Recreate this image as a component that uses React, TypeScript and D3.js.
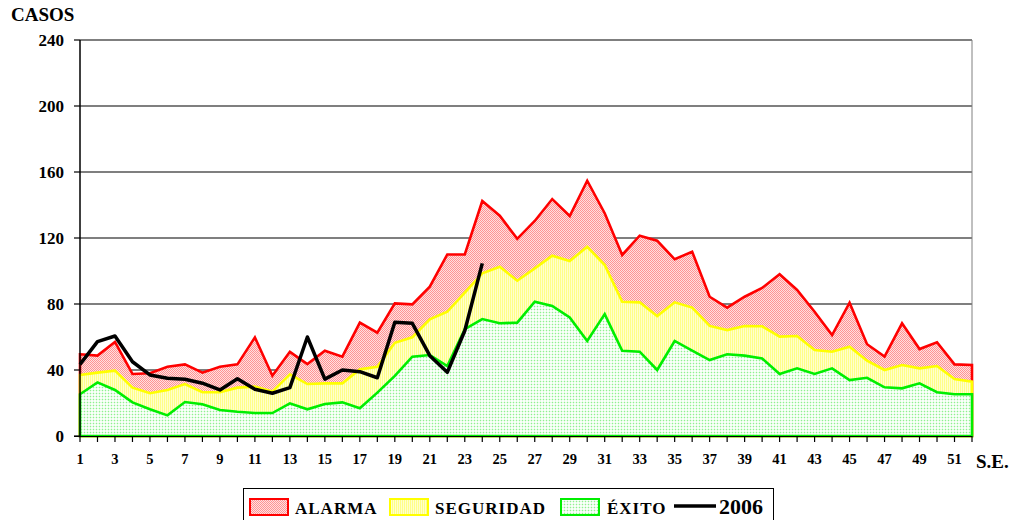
import React, { useEffect, useRef } from "react";
import * as d3 from "d3";

// Semanas epidemiológicas 1..52
const weeks = d3.range(1, 53);

// Zona de alarma (límite superior)
const alarma = [
  49.5, 48.7, 57, 37.6, 38, 42, 43.4, 38.4, 42, 43.4,
  59.8, 36.5, 51, 43.6, 51.7, 48.1, 68.7, 62.6, 80.4, 79.8,
  90.5, 110, 110, 142.4, 133.5, 119.5, 130.3, 143.6, 133.3, 154.7,
  135, 109.7, 121.4, 118.4, 107.1, 111.7, 84.4, 77.8, 84.4, 89.7,
  98, 88.5, 75.3, 61.2, 80.8, 55.6, 48.1, 68.3, 52.7, 56.8,
  43.4, 43,
];

// Zona de seguridad
const seguridad = [
  37, 38.4, 39.6, 29.3, 25.9, 27.9, 31.5, 26.5, 26.5, 29.3,
  29.9, 26.9, 37.4, 31.5, 31.9, 31.9, 40.4, 42, 56.5, 59.8,
  70.7, 75.3, 86.9, 98.6, 102.6, 94.1, 101.6, 109.3, 106, 114.7,
  103.6, 81.4, 81, 72.7, 81, 77.8, 66.7, 64.2, 66.7, 66.5,
  60.2, 60.6, 52.1, 51.1, 54.1, 45.6, 40, 43, 41, 42.4,
  34.5, 32.9,
];

// Zona de éxito
const exito = [
  25.3, 32.5, 27.9, 20.4, 16.2, 12.5, 20.6, 19.2, 15.8, 14.7,
  13.9, 13.9, 19.8, 16.2, 19.4, 20.4, 16.8, 26.3, 36.4, 48.1,
  49.1, 42.4, 64.7, 70.9, 68.3, 68.7, 81.4, 78.8, 71.9, 57.6,
  73.9, 51.7, 51.1, 40, 57.6, 51.7, 46, 49.5, 48.7, 47,
  37.6, 41, 37.6, 41, 33.9, 35.3, 29.5, 28.9, 31.9, 26.5,
  25.3, 25.3,
];

// Casos 2006 (hasta la semana 24)
const casos2006 = [
  43.4, 57.2, 60.6, 45, 37, 35, 34.4, 32, 27.9, 34.7,
  28.3, 25.9, 29.3, 60, 34.5, 40, 39, 35.3, 68.9, 68.3,
  48.7, 38.6, 63.8, 104.6,
];

const yTicks = [0, 40, 80, 120, 160, 200, 240];

const FONT = "'Liberation Serif', 'Times New Roman', serif";

function EndemicChart() {
  const ref = useRef<SVGSVGElement | null>(null);

  useEffect(() => {
    drawChart();
  }, []);

  const drawChart = () => {
    const svg = d3.select(ref.current);
    svg.selectAll("*").remove();

    const x = d3.scaleLinear().domain([1, 52]).range([80, 972]);
    const y = d3.scaleLinear().domain([0, 240]).range([436, 40]);

    // patterns
    const defs = svg.append("defs");
    const pink = defs.append("pattern").attr("id", "pRed")
      .attr("patternUnits", "userSpaceOnUse").attr("width", 2).attr("height", 2);
    pink.append("rect").attr("width", 2).attr("height", 2).attr("fill", "#ffe0e0");
    pink.append("rect").attr("width", 1).attr("height", 1).attr("fill", "#ff9494");
    pink.append("rect").attr("x", 1).attr("y", 1).attr("width", 1).attr("height", 1).attr("fill", "#ff9494");

    const yel = defs.append("pattern").attr("id", "pYel")
      .attr("patternUnits", "userSpaceOnUse").attr("width", 2).attr("height", 2);
    yel.append("rect").attr("width", 2).attr("height", 2).attr("fill", "#ffffcc");
    yel.append("rect").attr("width", 1).attr("height", 2).attr("fill", "#ffff88");

    const grn = defs.append("pattern").attr("id", "pGrn")
      .attr("patternUnits", "userSpaceOnUse").attr("width", 3).attr("height", 3);
    grn.append("rect").attr("width", 3).attr("height", 3).attr("fill", "#fafffa");
    grn.append("rect").attr("width", 3).attr("height", 1).attr("fill", "#e2fce2");
    grn.append("rect").attr("width", 1).attr("height", 3).attr("fill", "#e2fce2");
    grn.append("rect").attr("width", 1).attr("height", 1).attr("fill", "#90f090");

    // gridlines
    svg.append("g").selectAll("line")
      .data(yTicks.filter(d => d > 0))
      .enter().append("line")
      .attr("x1", x(1)).attr("x2", x(52))
      .attr("y1", d => y(d)).attr("y2", d => y(d))
      .attr("stroke", "#000").attr("stroke-width", 1.2);

    // right border
    svg.append("line")
      .attr("x1", x(52)).attr("x2", x(52)).attr("y1", y(240)).attr("y2", y(0))
      .attr("stroke", "#808080").attr("stroke-width", 1);

    // areas
    const series = [
      { values: alarma, color: "#ff0000", fill: "url(#pRed)" },
      { values: seguridad, color: "#ffff00", fill: "url(#pYel)" },
      { values: exito, color: "#00ee00", fill: "url(#pGrn)" },
    ];
    const area = d3.area<number>()
      .x((_, i) => x(weeks[i]))
      .y0(y(0))
      .y1(d => y(d));
    series.forEach(s => {
      svg.append("path")
        .attr("d", area(s.values) + "Z")
        .attr("fill", s.fill)
        .attr("stroke", s.color)
        .attr("stroke-width", 2.6)
        .attr("stroke-linejoin", "miter");
    });

    // axes
    svg.append("line")
      .attr("x1", x(1)).attr("x2", x(1)).attr("y1", y(240)).attr("y2", y(0))
      .attr("stroke", "#000").attr("stroke-width", 1.5);
    svg.append("line")
      .attr("x1", x(1) - 6).attr("x2", x(52)).attr("y1", y(0) + 0.5).attr("y2", y(0) + 0.5)
      .attr("stroke", "#000").attr("stroke-width", 1.2);

    // y ticks + labels
    const yAxis = svg.append("g");
    yTicks.forEach(t => {
      yAxis.append("line")
        .attr("x1", x(1) - 6).attr("x2", x(1)).attr("y1", y(t)).attr("y2", y(t))
        .attr("stroke", "#000").attr("stroke-width", 1.2);
      yAxis.append("text")
        .attr("x", 64).attr("y", y(t) + 6)
        .attr("text-anchor", "end")
        .attr("font-family", FONT).attr("font-weight", "bold").attr("font-size", "17px")
        .text(t);
    });

    // x ticks + labels
    const xAxis = svg.append("g");
    weeks.forEach(w => {
      xAxis.append("line")
        .attr("x1", x(w)).attr("x2", x(w)).attr("y1", y(0)).attr("y2", y(0) + 6)
        .attr("stroke", "#000").attr("stroke-width", 1.2);
      if (w % 2 === 1) {
        xAxis.append("text")
          .attr("x", x(w)).attr("y", 464)
          .attr("text-anchor", "middle")
          .attr("font-family", FONT).attr("font-weight", "bold").attr("font-size", "14.5px")
          .text(w);
      }
    });

    // 2006 line
    const line = d3.line<number>()
      .x((_, i) => x(weeks[i]))
      .y(d => y(d));
    svg.append("path")
      .attr("d", line(casos2006))
      .attr("fill", "none")
      .attr("stroke", "#000")
      .attr("stroke-width", 3.5)
      .attr("stroke-linejoin", "round");

    // titles
    svg.append("text")
      .attr("x", 11).attr("y", 21)
      .attr("font-family", FONT).attr("font-weight", "bold").attr("font-size", "19px")
      .text("CASOS");
    svg.append("text")
      .attr("x", 976).attr("y", 468)
      .attr("font-family", FONT).attr("font-weight", "bold").attr("font-size", "19px")
      .text("S.E.");

    // legend
    const lg = svg.append("g");
    lg.append("rect")
      .attr("x", 243.5).attr("y", 488.5).attr("width", 530).attr("height", 40)
      .attr("fill", "#fff").attr("stroke", "#000").attr("stroke-width", 1);
    const items = [
      { label: "ALARMA", fill: "url(#pRed)", color: "#ff0000", sx: 250, tx: 295 },
      { label: "SEGURIDAD", fill: "url(#pYel)", color: "#ffff00", sx: 390, tx: 435 },
      { label: "ÉXITO", fill: "url(#pGrn)", color: "#00ee00", sx: 561, tx: 607 },
    ];
    items.forEach(it => {
      lg.append("rect")
        .attr("x", it.sx).attr("y", 499).attr("width", 38).attr("height", 16)
        .attr("fill", it.fill).attr("stroke", it.color).attr("stroke-width", 2);
      lg.append("text")
        .attr("x", it.tx).attr("y", 514)
        .attr("font-family", FONT).attr("font-weight", "bold").attr("font-size", "17px")
        .attr("letter-spacing", "1px")
        .text(it.label);
    });
    lg.append("line")
      .attr("x1", 674).attr("x2", 716).attr("y1", 506).attr("y2", 506)
      .attr("stroke", "#000").attr("stroke-width", 3.5);
    lg.append("text")
      .attr("x", 719).attr("y", 514)
      .attr("font-family", FONT).attr("font-weight", "bold").attr("font-size", "22px")
      .text("2006");
  };

  return (
    <svg ref={ref} width={1013} height={520}
      style={{ position: "absolute", left: 0, top: 0, background: "#fff" }} />
  );
}

export default function App() {
  return <EndemicChart />;
}
